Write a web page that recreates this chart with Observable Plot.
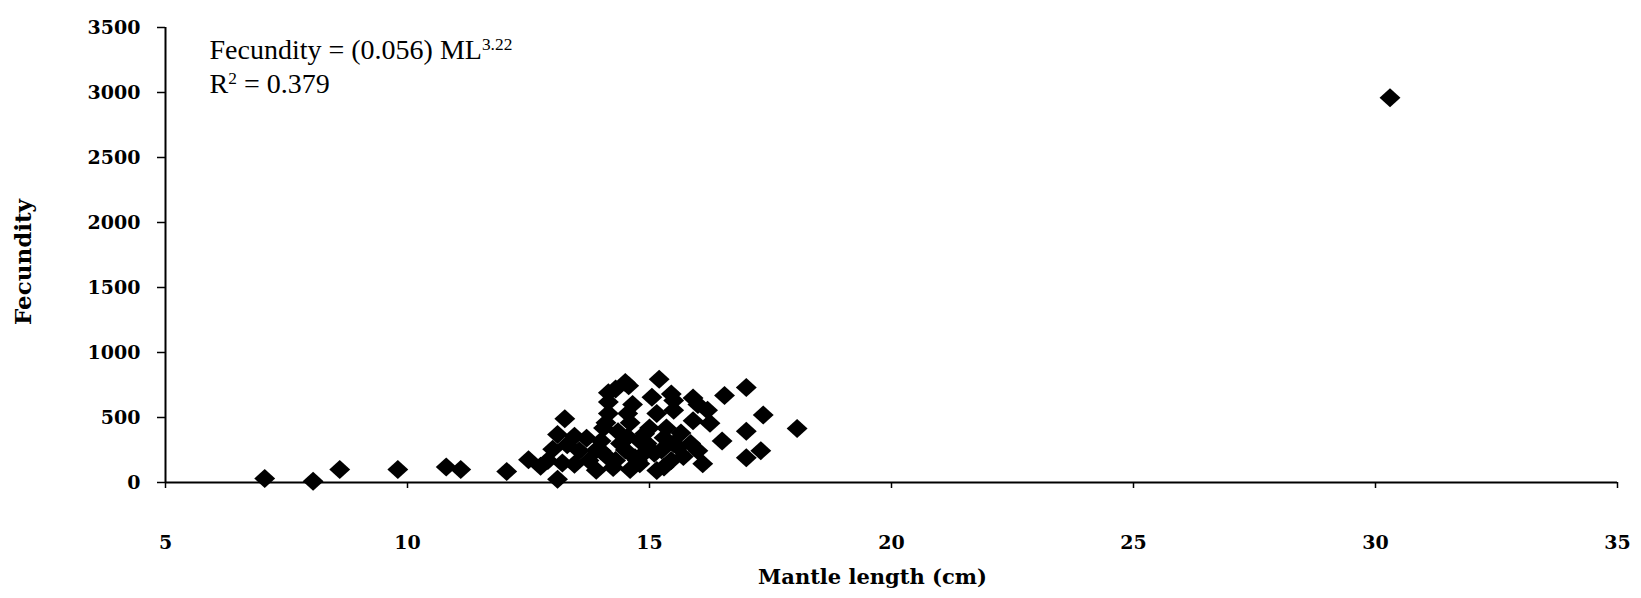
<!DOCTYPE html>
<html>
<head>
<meta charset="utf-8">
<script src="https://cdn.jsdelivr.net/npm/d3@7"></script>
<script src="https://cdn.jsdelivr.net/npm/@observablehq/plot@0.6"></script>
<style>
  html, body { margin: 0; padding: 0; background: #fff; }
  #chart svg { display: block; }
</style>
</head>
<body>
<div id="chart"></div>
<script>
// Mantle length (cm) and fecundity of each specimen
const mantleLength = [
  7.05, 8.05, 8.6, 9.8, 10.8, 11.1, 12.05,
  12.5, 12.75, 12.9, 13.0, 13.1, 13.1, 13.25, 13.2, 13.45, 13.55, 13.45, 13.3,
  13.75, 13.9, 14.0, 14.05, 13.7, 14.0, 14.15, 14.25, 14.15, 14.15, 14.15, 14.3, 14.3,
  14.5, 14.57, 14.55, 14.6, 14.5, 14.55, 14.7, 14.75, 14.9, 14.95, 14.8, 14.65,
  15.05, 15.2, 15.15, 15.45, 15.5, 15.5, 15.1, 15.15, 15.3, 15.45, 15.5, 15.25, 15.6,
  15.9, 16.2, 15.9, 16.25, 16.0, 16.1, 15.85, 16.0,
  16.55, 16.5, 17.0, 17.35, 17.0, 17.0, 17.3, 18.05,
  13.9, 14.4, 14.35, 14.8, 15.0, 15.35, 15.65, 14.6, 15.3, 15.7, 14.9, 14.1,
  30.3
];
const fecundity = [
  30, 10, 100, 100, 120, 100, 85,
  175, 125, 170, 255, 25, 370, 490, 150, 355, 245, 140, 290,
  170, 95, 320, 420, 340, 245, 190, 115, 530, 620, 690, 720, 170,
  770, 745, 530, 460, 250, 350, 190, 170, 375, 300, 145, 600,
  655, 795, 530, 680, 555, 630, 225, 92, 345, 170, 300, 250, 270,
  650, 555, 475, 455, 245, 145, 300, 600,
  670, 320, 730, 520, 395, 190, 245, 415,
  250, 300, 390, 320, 420, 420, 380, 100, 120, 200, 230, 460,
  2960
];

const xTicks = [5, 10, 15, 20, 25, 30, 35];
const yTicks = [0, 500, 1000, 1500, 2000, 2500, 3000, 3500];
const xTitle = "Mantle length (cm)";
const yTitle = "Fecundity";
const equationParts = [{t: "Fecundity = (0.056) ML"}, {t: "3.22", sup: true}];
const r2Parts = [{t: "R"}, {t: "2", sup: true}, {t: " = 0.379"}];

const specimens = mantleLength.map((x, i) => ({x, y: fecundity[i]}));

// Filled diamond, a touch wider than tall
const diamond = {
  draw(ctx, size) {
    const r = Math.sqrt(size / Math.PI);
    const w = r * 1.1, h = r;
    ctx.moveTo(0, -h);
    ctx.lineTo(w, 0);
    ctx.lineTo(0, h);
    ctx.lineTo(-w, 0);
    ctx.closePath();
  }
};

const boldFont = {fontFamily: "DejaVu Serif", fontWeight: "bold"};
const textFont = {fontFamily: "Liberation Serif", fontWeight: "normal", fontSize: 28};

const plot = Plot.plot({
  width: 1641,
  height: 598,
  marginLeft: 165,
  marginRight: 24,
  marginTop: 27,
  marginBottom: 116,
  style: {background: "#fff", color: "#000"},
  x: {domain: [5, 35]},
  y: {domain: [0, 3500]},
  marks: [
    Plot.axisX({ticks: xTicks, tickFormat: d => String(d), tickSize: 6, tickPadding: 47, label: null, strokeWidth: 1.5, fontSize: 19, ...boldFont}),
    Plot.axisY({ticks: yTicks, tickFormat: d => String(d), tickSize: 8, tickPadding: 17, label: null, strokeWidth: 1.5, fontSize: 19, ...boldFont}),
    Plot.ruleY([0], {strokeWidth: 2}),
    Plot.ruleX([5], {strokeWidth: 2}),
    Plot.dot(specimens, {x: "x", y: "y", r: 9.5, symbol: diamond, fill: "#000", stroke: null}),
    Plot.text([yTitle], {text: d => d, frameAnchor: "left", textAnchor: "middle", lineAnchor: "middle", dx: -142, dy: 7, rotate: -90, fontSize: 23, ...boldFont}),
    Plot.text([xTitle], {text: d => d, frameAnchor: "bottom", textAnchor: "middle", lineAnchor: "bottom", dx: -19, dy: 101, fontSize: 21, ...boldFont}),
    Plot.text(["eq"], {text: d => d, frameAnchor: "top-left", dx: 44, dy: 31, lineAnchor: "bottom", textAnchor: "start", className: "eq-line", ...textFont}),
    Plot.text(["r2"], {text: d => d, frameAnchor: "top-left", dx: 44, dy: 65, lineAnchor: "bottom", textAnchor: "start", className: "r2-line", ...textFont})
  ]
});

document.getElementById("chart").appendChild(plot);

// Rich text with superscripts for the regression annotation
function setRich(cls, parts) {
  const t = d3.select(plot).select(`g.${cls} text`);
  t.text(null);
  for (const p of parts) {
    const ts = t.append("tspan").text(p.t);
    if (p.sup) ts.attr("baseline-shift", "super").attr("font-size", "62%");
  }
}
setRich("eq-line", equationParts);
setRich("r2-line", r2Parts);
</script>
</body>
</html>
